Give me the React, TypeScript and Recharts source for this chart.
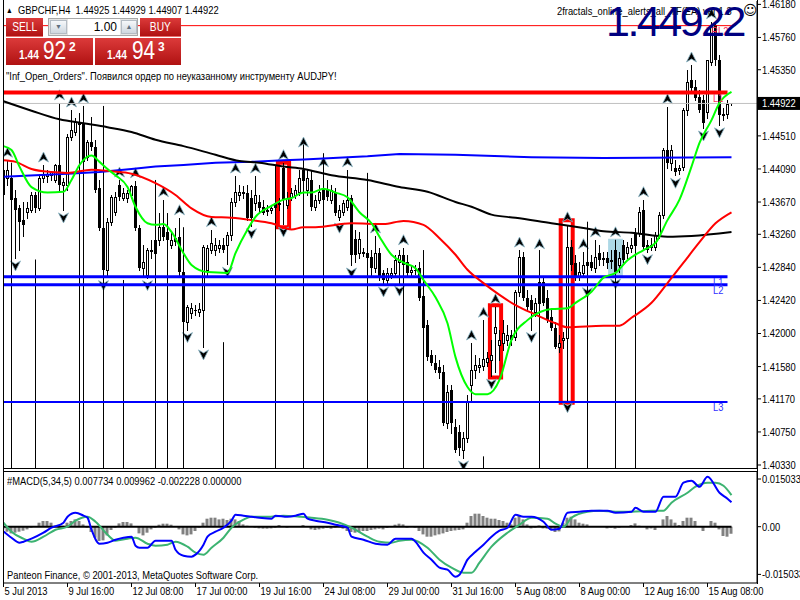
import React from 'react';
import { ComposedChart, Bar, Line, XAxis, YAxis, ReferenceLine, ReferenceArea } from 'recharts';

const FONT = '"Liberation Sans", Arial, sans-serif';
const SX = 0.85; // horizontal condensing of the terminal font

// ---- GBPCHF H4 candles (index 0 = 5 Jul 2013 00:00) ----
const opens = [
1.4408,1.4398,1.4398,1.4372,1.4359,1.4344,1.4354,1.4357,1.4376,1.4359,
1.4398,1.4400,1.4401,1.4395,1.4414,1.4389,1.4389,1.4450,1.4456,1.4469,
1.4467,1.4424,1.4443,1.4437,1.4385,1.4334,1.4281,1.4342,1.4354,1.4389,
1.4372,1.4372,1.4376,1.4387,1.4334,1.4283,1.4274,1.4306,1.4302,1.4319,
1.4335,1.4329,1.4312,1.4321,1.4323,1.4278,1.4215,1.4226,1.4230,1.4227,
1.4230,1.4281,1.4306,1.4306,1.4309,1.4312,1.4312,1.4325,1.4367,1.4376,
1.4380,1.4379,1.4372,1.4366,1.4367,1.4361,1.4357,1.4357,1.4361,1.4366,
1.4410,1.4363,1.4373,1.4376,1.4380,1.4395,1.4382,1.4395,1.4361,1.4370,
1.4385,1.4382,1.4370,1.4379,1.4348,1.4354,1.4361,1.4372,1.4320,1.4302,
1.4302,1.4302,1.4297,1.4283,1.4302,1.4277,1.4268,1.4274,1.4277,1.4291,
1.4300,1.4291,1.4278,1.4281,1.4283,1.4248,1.4211,1.4173,1.4163,1.4158,
1.4151,1.4086,1.4128,1.4081,1.4075,1.4052,1.4067,1.4135,1.4154,1.4158,
1.4159,1.4164,1.4166,1.4201,1.4185,1.4188,1.4192,1.4198,1.4195,1.4253,
1.4297,1.4245,1.4243,1.4227,1.4239,1.4265,1.4245,1.4221,1.4207,1.4183,
1.4192,1.4194,1.4310,1.4290,1.4272,1.4277,1.4287,1.4291,1.4283,1.4302,
1.4296,1.4296,1.4293,1.4306,1.4287,1.4312,1.4302,1.4309,1.4312,1.4328,
1.4357,1.4312,1.4312,1.4310,1.4325,1.4351,1.4433,1.4417,1.4410,1.4408,
1.4412,1.4484,1.4522,1.4513,1.4500,1.4497,1.4481,1.4545,1.4592,1.4547,
1.4478,1.4479,1.44925];
const highs = [
1.4418,1.4420,1.4417,1.4382,1.4363,1.4367,1.4367,1.4380,1.4380,1.4400,
1.4414,1.4408,1.4405,1.4415,1.4493,1.4398,1.4453,1.4484,1.4474,1.4478,
1.4489,1.4446,1.4475,1.4446,1.4395,1.4344,1.4347,1.4376,1.4380,1.4395,
1.4385,1.4382,1.4389,1.4394,1.4338,1.4312,1.4309,1.4319,1.4325,1.4353,
1.4370,1.4351,1.4329,1.4334,1.4347,1.4283,1.4236,1.4239,1.4236,1.4239,
1.4312,1.4312,1.4332,1.4321,1.4319,1.4321,1.4329,1.4372,1.4400,1.4389,
1.4387,1.4389,1.4382,1.4400,1.4376,1.4370,1.4363,1.4363,1.4370,1.4372,
1.4417,1.4380,1.4385,1.4389,1.4408,1.4433,1.4408,1.4408,1.4376,1.4389,
1.4408,1.4395,1.4389,1.4385,1.4363,1.4370,1.4408,1.4376,1.4332,1.4329,
1.4309,1.4312,1.4306,1.4324,1.4309,1.4281,1.4283,1.4283,1.4300,1.4306,
1.4309,1.4300,1.4286,1.4287,1.4291,1.4255,1.4217,1.4179,1.4173,1.4166,
1.4160,1.4135,1.4135,1.4092,1.4084,1.4075,1.4122,1.4188,1.4173,1.4169,
1.4217,1.4177,1.4192,1.4234,1.4205,1.4217,1.4211,1.4205,1.4255,1.4306,
1.4304,1.4255,1.4249,1.4245,1.4304,1.4271,1.4255,1.4230,1.4215,1.4198,
1.4202,1.4338,1.4319,1.4300,1.4291,1.4304,1.4300,1.4300,1.4319,1.4312,
1.4304,1.4304,1.4306,1.4319,1.4304,1.4319,1.4316,1.4321,1.4334,1.4361,
1.4370,1.4319,1.4321,1.4329,1.4354,1.4436,1.4488,1.4440,1.4420,1.4414,
1.4486,1.4535,1.4541,1.4522,1.4509,1.4503,1.4547,1.4596,1.4594,1.4554,
1.4486,1.4497,1.44929];
const lows = [
1.4372,1.4389,1.4351,1.4296,1.4306,1.4324,1.4347,1.4354,1.4354,1.4357,
1.4393,1.4393,1.4395,1.4393,1.4382,1.4357,1.4382,1.4446,1.4452,1.4461,
1.4414,1.4420,1.4433,1.4380,1.4332,1.4271,1.4274,1.4338,1.4351,1.4370,
1.4370,1.4367,1.4372,1.4332,1.4281,1.4274,1.4271,1.4296,1.4291,1.4312,
1.4319,1.4315,1.4309,1.4312,1.4274,1.4210,1.4205,1.4220,1.4224,1.4222,
1.4183,1.4274,1.4302,1.4300,1.4304,1.4304,1.4288,1.4319,1.4362,1.4370,
1.4372,1.4344,1.4337,1.4357,1.4354,1.4352,1.4351,1.4353,1.4354,1.4357,
1.4339,1.4359,1.4370,1.4372,1.4376,1.4382,1.4376,1.4357,1.4357,1.4366,
1.4367,1.4370,1.4366,1.4351,1.4344,1.4351,1.4357,1.4287,1.4291,1.4296,
1.4299,1.4293,1.4274,1.4278,1.4268,1.4263,1.4264,1.4271,1.4273,1.4264,
1.4283,1.4274,1.4273,1.4276,1.4243,1.4205,1.4166,1.4160,1.4151,1.4144,
1.4084,1.4080,1.4074,1.4050,1.4046,1.4042,1.4062,1.4116,1.4144,1.4151,
1.4154,1.4159,1.4146,1.4151,1.4166,1.4179,1.4185,1.4185,1.4192,1.4248,
1.4243,1.4230,1.4205,1.4222,1.4235,1.4236,1.4215,1.4205,1.4182,1.4177,
1.4182,1.4116,1.4281,1.4268,1.4268,1.4273,1.4262,1.4281,1.4278,1.4287,
1.4287,1.4283,1.4283,1.4273,1.4278,1.4291,1.4296,1.4304,1.4309,1.4324,
1.4306,1.4304,1.4306,1.4306,1.4321,1.4347,1.4410,1.4408,1.4401,1.4403,
1.4408,1.4478,1.4507,1.4497,1.4481,1.4461,1.4474,1.4541,1.4541,1.4465,
1.4471,1.4474,1.44907];
const closes = [
1.4376,1.4408,1.4370,1.4357,1.4342,1.4338,1.4359,1.4376,1.4359,1.4398,
1.4401,1.4403,1.4405,1.4414,1.4389,1.4393,1.4450,1.4459,1.4469,1.4465,
1.4418,1.4443,1.4437,1.4382,1.4334,1.4281,1.4342,1.4373,1.4373,1.4373,
1.4379,1.4379,1.4387,1.4334,1.4283,1.4291,1.4306,1.4304,1.4319,1.4335,
1.4323,1.4319,1.4319,1.4316,1.4278,1.4215,1.4234,1.4232,1.4229,1.4231,
1.4310,1.4309,1.4315,1.4312,1.4312,1.4306,1.4325,1.4367,1.4380,1.4380,
1.4377,1.4347,1.4347,1.4376,1.4359,1.4353,1.4354,1.4359,1.4366,1.4363,
1.4370,1.4372,1.4379,1.4382,1.4398,1.4408,1.4398,1.4361,1.4370,1.4380,
1.4370,1.4373,1.4382,1.4353,1.4357,1.4366,1.4370,1.4300,1.4300,1.4320,
1.4304,1.4296,1.4283,1.4302,1.4271,1.4268,1.4277,1.4277,1.4293,1.4300,
1.4287,1.4277,1.4281,1.4279,1.4245,1.4207,1.4170,1.4163,1.4154,1.4150,
1.4086,1.4126,1.4086,1.4052,1.4055,1.4067,1.4113,1.4154,1.4160,1.4160,
1.4168,1.4169,1.4173,1.4208,1.4192,1.4201,1.4198,1.4192,1.4253,1.4297,
1.4245,1.4234,1.4230,1.4239,1.4265,1.4239,1.4217,1.4207,1.4183,1.4188,
1.4194,1.4310,1.4287,1.4272,1.4278,1.4287,1.4291,1.4283,1.4297,1.4293,
1.4293,1.4290,1.4291,1.4278,1.4296,1.4293,1.4310,1.4312,1.4328,1.4354,
1.4310,1.4306,1.4309,1.4325,1.4351,1.4433,1.4417,1.4433,1.4405,1.4410,
1.4484,1.4520,1.4512,1.4499,1.4484,1.4467,1.4547,1.4592,1.4547,1.4478,
1.4479,1.4491,1.44922];

const fractalUp = [1,10,14,17,20,29,33,40,44,52,58,63,70,75,80,86,93,100,117,120,123,129,134,141,145,148,153,160,166,172,177];
const fractalDown = [3,15,25,36,46,50,56,62,70,84,87,95,99,115,122,132,141,146,153,161,168,175,179];

// [bar index, price]
const fastMA = [[0,1.4438],[2,1.4433],[4,1.4412],[7,1.4386],[11,1.4379],[15,1.4380],[17,1.4395],[19,1.4414],[22,1.4426],[24,1.4418],[26,1.4409],[28,1.4401],[31,1.4386],[33,1.4361],[36,1.4340],[38,1.4338],[40,1.4339],[42,1.4329],[45,1.4302],[47,1.4287],[51,1.4278],[56,1.4277],[58,1.4302],[61,1.4332],[63,1.4348],[67,1.4362],[70,1.4370],[72,1.4372],[75,1.4379],[77,1.4379],[80,1.4384],[83,1.4379],[86,1.4373],[89,1.4354],[92,1.4340],[94,1.4323],[97,1.4300],[100,1.4290],[103,1.4283],[105,1.4268],[108,1.4246],[111,1.4213],[113,1.4170],[116,1.4132],[118,1.4123],[121,1.4123],[124,1.4141],[127,1.4192],[131,1.4217],[134,1.4227],[137,1.4231],[141,1.4232],[143,1.4239],[147,1.4253],[150,1.4271],[153,1.4277],[156,1.4293],[160,1.4306],[163,1.4315],[166,1.4344],[169,1.4370],[172,1.4412],[174,1.4442],[177,1.4471],[179,1.4493],[182,1.4507]];
const slowMA = [[0,1.4420],[3,1.4418],[7,1.4409],[12,1.4405],[16,1.4404],[22,1.4408],[27,1.4406],[32,1.4403],[38,1.4391],[43,1.4376],[47,1.4359],[52,1.4348],[57,1.4347],[62,1.4344],[67,1.4340],[72,1.4332],[75,1.4335],[78,1.4335],[87,1.4340],[95,1.4339],[100,1.4343],[105,1.4338],[109,1.4321],[113,1.4300],[116,1.4281],[120,1.4264],[124,1.4249],[128,1.4236],[133,1.4224],[138,1.4213],[141,1.4208],[150,1.4210],[154,1.4210],[157,1.4220],[162,1.4239],[166,1.4264],[170,1.4290],[174,1.4316],[178,1.4340],[182,1.4354]];
const longMA = [[0,1.4495],[7,1.4483],[14,1.4472],[20,1.4467],[26,1.4462],[32,1.4456],[38,1.4446],[45,1.4438],[53,1.4427],[59,1.4419],[64,1.4417],[70,1.4412],[75,1.4409],[82,1.4401],[91,1.4395],[99,1.4386],[106,1.4380],[113,1.4367],[117,1.4361],[122,1.4351],[128,1.4347],[137,1.4340],[145,1.4334],[150,1.4330],[157,1.4328],[166,1.4323],[172,1.4324],[182,1.4329]];
const htfMA = [[0,1.4399],[16,1.4403],[24,1.4405],[32,1.4409],[38,1.4412],[45,1.4414],[53,1.4417],[62,1.4418],[70,1.4420],[75,1.4421],[91,1.4425],[99,1.4428],[113,1.4427],[132,1.4424],[150,1.4423],[182,1.4424]];

// vertical fractal lines: [bar index, top price]
const fractalLines = [[2,1.4417],[8,1.4294],[19,1.4480],[20,1.4489],[25,1.4489],[30,1.4268],[38,1.4395],[41,1.4353],[45,1.4335],[55,1.4189],[68,1.4414],[75,1.4440],[80,1.4429],[91,1.4404],[100,1.4293],[105,1.4306],[120,1.4044],[134,1.4306],[146,1.4342],[153,1.4319],[158,1.4332]];

const bidPrice = 1.44922;
const redThinLevel = 1.4591;
const redLevel = 1.4506;
const blueL1 = 1.4272;
const blueL2 = 1.4262;
const blueL3 = 1.4113;

// highlighted boxes: [x from, x to, price low, price high]
const redBoxes = [[68.6,71.4,1.4335,1.4417],[121.6,124.4,1.4144,1.4236],[139.3,142.3,1.4112,1.4344]];
const blueBox = [151.4,154.6,1.4272,1.4319];

const priceTicks = [1.4618,1.4576,1.4535,1.4451,1.4409,1.4367,1.4326,1.4284,1.4242,1.4200,1.4158,1.4117,1.4075,1.4033];
const timeLabels = ['5 Jul 2013','9 Jul 16:00','12 Jul 08:00','17 Jul 00:00','19 Jul 16:00','24 Jul 08:00','29 Jul 00:00','31 Jul 16:00','5 Aug 08:00','8 Aug 00:00','12 Aug 16:00','15 Aug 08:00'];

// ---- MACD(5,34,5) ----
const macdHist = [
-0.00085,-0.00158,-0.00211,-0.00189,-0.00158,-0.00126,-0.00085,-0.00032,0.00016,0.00126,
0.0018,0.0018,0.00126,0.00032,-0.00032,0.00032,0.00126,0.0018,0.0023,0.0018,
0.00072,-0.00032,-0.00167,-0.00347,-0.0045,-0.00432,-0.00274,-0.00104,-0.00032,0.00104,
0.00148,0.00148,0.00104,0.00022,-0.00211,-0.00274,-0.00189,-0.00085,-0.00032,0.00063,
0.00095,0.00095,0.00063,0.00005,-0.00085,-0.00243,-0.00274,-0.00243,-0.00135,-0.00032,
0.00126,0.00252,0.00284,0.00284,0.0023,0.00252,0.00211,0.00252,0.0023,0.0018,
0.00072,0.00032,0.00005,-0.00032,-0.00054,-0.00063,-0.00063,-0.00054,-0.00032,0.00054,
0.00005,-0.00032,-0.00005,0.00022,0.00005,0.00054,0.00005,-0.00085,-0.00104,-0.00085,
-0.00063,-0.00041,-0.00063,-0.00032,-0.00016,-0.00063,-0.00135,-0.00167,-0.00189,-0.00167,
-0.00135,-0.00135,-0.00104,-0.00085,-0.00063,-0.00085,-0.00041,-0.00016,0.00063,0.00095,
0.00072,-0.00032,0.00005,-0.00032,-0.00135,-0.00243,-0.00315,-0.00315,-0.00274,-0.00243,
-0.00211,-0.00167,-0.00135,-0.00117,-0.00104,-0.00085,0.00126,0.00337,0.0041,0.0041,
0.00337,0.00284,0.00252,0.00252,0.00211,0.0018,0.00126,0.00072,0.00284,0.00337,
0.0023,0.00072,-0.00054,-0.00032,0.00041,-0.00054,-0.00063,-0.00104,-0.00167,-0.00148,
0.00126,0.00284,0.00315,0.0023,0.00126,0.00095,0.00072,0.00005,0.00016,0.00005,
-0.00005,-0.00054,-0.00032,-0.00063,-0.00032,-0.00005,0.00016,0.00054,0.00104,0.00032,
-0.00005,-0.00085,-0.00054,-0.00104,0.00005,0.0023,0.00337,0.0023,0.00126,0.00054,
0.0018,0.00284,0.00284,0.0018,0.00005,-0.00135,0.00005,0.0018,0.00126,-0.00085,
-0.00293,-0.00315,-0.002228];
const macdMain = [[0,-0.00148],[2,-0.00347],[4,-0.00504],[5,-0.00473],[7,-0.00378],[10,-0.00189],[12,-0.00032],[15,0.00126],[16,0.00315],[18,0.00441],[20,0.00347],[21,0.00284],[22,-0.00095],[24,-0.00536],[26,-0.00504],[28,-0.0041],[30,-0.00347],[32,-0.00315],[33,-0.00599],[34,-0.00662],[36,-0.00662],[38,-0.00441],[41,-0.00441],[42,-0.00441],[43,-0.00725],[45,-0.00914],[47,-0.00945],[48,-0.00882],[50,-0.00567],[51,-0.00315],[53,-0.00158],[55,-0.00032],[57,0.00189],[58,0.00378],[60,0.00347],[62,0.00315],[64,0.00284],[67,0.00252],[68,0.00347],[71,0.00315],[73,0.00347],[75,0.0041],[76,0.00252],[78,0.00189],[81,0.00126],[83,0.00063],[86,-0.00032],[87,-0.00315],[90,-0.0041],[93,-0.00536],[96,-0.00567],[98,-0.00378],[102,-0.00378],[103,-0.00473],[105,-0.00819],[107,-0.0104],[109,-0.01292],[111,-0.01355],[113,-0.01575],[114,-0.01512],[116,-0.0104],[118,-0.00788],[120,-0.00567],[122,-0.00315],[124,-0.00126],[126,-0.00032],[128,0.00378],[130,0.00315],[132,0.00315],[135,0.00158],[137,-0.00095],[139,-0.00063],[141,0.00441],[144,0.00473],[147,0.00504],[151,0.00504],[153,0.00441],[157,0.00473],[158,0.00599],[160,0.00473],[163,0.00473],[165,0.00945],[168,0.00945],[170,0.01386],[172,0.01449],[174,0.0126],[176,0.01575],[179,0.01071],[181,0.00882],[182,0.007734]];
const macdSignal = [[0,0.00126],[2,-0.00158],[5,-0.00378],[7,-0.00473],[10,-0.00315],[13,-0.00095],[16,0],[18,0.00189],[21,0.00315],[23,0.00158],[26,-0.00252],[28,-0.00441],[31,-0.00378],[33,-0.00347],[36,-0.00536],[38,-0.00599],[41,-0.00567],[43,-0.00473],[46,-0.0063],[48,-0.00819],[50,-0.00882],[52,-0.00662],[55,-0.00347],[57,-0.00032],[60,0.00221],[62,0.00315],[66,0.00315],[70,0.00347],[74,0.00315],[77,0.00284],[81,0.00221],[84,0.00126],[87,-0.00032],[91,-0.00315],[94,-0.00473],[97,-0.00504],[99,-0.00441],[102,-0.0041],[106,-0.00662],[109,-0.0104],[112,-0.01292],[115,-0.01449],[117,-0.01449],[119,-0.01134],[122,-0.0063],[126,-0.00189],[129,0.00063],[132,0.00284],[136,0.00252],[138,0.00095],[140,0],[142,0.00284],[146,0.00473],[149,0.00504],[153,0.00473],[157,0.00473],[162,0.00504],[165,0.00504],[167,0.00756],[171,0.01071],[173,0.0126],[176,0.01386],[178,0.01386],[180,0.01292],[182,0.009962]];
const macdTicks = [0.015033, 0, -0.015033];

// ---- scales ----
const XMIN = -0.125;
const XMAX = 188.375;
const PRICE_MIN = 1.40292;
const PRICE_MAX = 1.46223;
const MACD_MIN = -0.01775;
const MACD_MAX = 0.01724;
const LAST = opens.length - 1;
const LEVEL_END = 181;

const toMap = (arr) => new Map(arr.map((p) => [p[0], p[1]]));
const fastMap = toMap(fastMA);
const slowMap = toMap(slowMA);
const longMap = toMap(longMA);
const htfMap = toMap(htfMA);
const upSet = new Set(fractalUp);
const dnSet = new Set(fractalDown);

const rows = opens.map((o, i) => ({
  i, o, h: highs[i], l: lows[i], c: closes[i],
  fu: upSet.has(i), fd: dnSet.has(i),
  fast: fastMap.has(i) ? fastMap.get(i) : null,
  slow: slowMap.has(i) ? slowMap.get(i) : null,
  long: longMap.has(i) ? longMap.get(i) : null,
  htf: htfMap.has(i) ? htfMap.get(i) : null,
}));

const mainMap = toMap(macdMain);
const sigMap = toMap(macdSignal);
const macdRows = macdHist.map((v, i) => ({
  i, hist: v,
  main: mainMap.has(i) ? mainMap.get(i) : null,
  sig: sigMap.has(i) ? sigMap.get(i) : null,
}));

const timeTicks = timeLabels.map((_, k) => k * 16);

function Candle(props: any) {
  const { x, y, width, height, payload } = props;
  if (x == null || y == null || !payload) return <g />;
  const cx = Math.floor(x + width / 2) + 0.5;
  const top = Math.min(y, y + height);
  const bot = Math.max(y, y + height);
  const { o, h, l, c } = payload;
  const span = h - l;
  const py = (v: number) => (span > 0 ? top + ((h - v) / span) * (bot - top) : top);
  const yo = py(o);
  const yc = py(c);
  const bull = c >= o;
  const bt = Math.round(Math.min(yo, yc));
  const bb = Math.round(Math.max(yo, yc));
  const els: any[] = [];
  els.push(<line key="w" x1={cx} x2={cx} y1={Math.round(top)} y2={Math.round(bot) + 1} stroke="#000" strokeWidth={1} />);
  if (bull) {
    els.push(<rect key="b" x={cx - 1} y={bt + 0.5} width={2} height={Math.max(bb - bt, 1)} fill="#fff" stroke="#000" strokeWidth={1} />);
  } else {
    els.push(<rect key="b" x={cx - 1.5} y={bt} width={3} height={Math.max(bb - bt, 1)} fill="#000" />);
  }
  if (payload.fu) {
    const ay = top - 8;
    els.push(<path key="u" d={`M${cx},${ay - 5}L${cx + 5},${ay + 5}L${cx},${ay + 2}L${cx - 5},${ay + 5}Z`} fill="#000" stroke="#8ab8c8" strokeWidth={0.8} />);
  }
  if (payload.fd) {
    const ay = bot + 8;
    els.push(<path key="d" d={`M${cx},${ay + 5}L${cx + 5},${ay - 5}L${cx},${ay - 2}L${cx - 5},${ay - 5}Z`} fill="#000" stroke="#8ab8c8" strokeWidth={0.8} />);
  }
  return <g>{els}</g>;
}

function BidTag(props: any) {
  const vb = props.viewBox || {};
  const x = (vb.x || 0) + (vb.width || 0);
  const y = vb.y || 0;
  return (
    <g>
      <rect x={x} y={y - 6.5} width={43} height={13} fill="#000" />
      <text transform={`translate(${x + 5},${y}) scale(${SX},1)`} dy="0.36em" fill="#fff" fontSize={11} fontFamily={FONT}>{bidPrice.toFixed(5)}</text>
    </g>
  );
}

function AxisTick(props: any) {
  const { x, y, payload, tickFormatter } = props;
  const label = tickFormatter ? tickFormatter(payload.value) : String(payload.value);
  return (
    <text transform={`translate(${x},${y}) scale(${SX},1)`} dy="0.36em" fontSize={11} fontFamily={FONT} fill="#000" textAnchor="start">{label}</text>
  );
}

function TimeTick(props: any) {
  const k = Math.round(props.payload.value / 16);
  return (
    <text transform={`translate(${props.x + 1},${props.y + 6}) scale(${SX},1)`} fontSize={11} fontFamily={FONT} fill="#000" textAnchor="start">{timeLabels[k]}</text>
  );
}

const red = 'linear-gradient(#dc3a3a, #b01212)';
const abs = (l: number, t: number, extra: any = {}) => ({ position: 'absolute' as const, left: l, top: t, ...extra });
const cond = { transform: `scaleX(${SX})`, transformOrigin: 'left top' };

export default function App() {
  return (
    <div style={{ position: 'absolute', left: 0, top: 0, width: 800, height: 600, background: '#fff', overflow: 'hidden', fontFamily: FONT, color: '#000' }}>
      <div style={abs(0, 0)}>
        <ComposedChart width={800} height={469} data={rows} margin={{ top: 1, right: 0, bottom: 1, left: 3 }}>
          <XAxis dataKey="i" type="number" domain={[XMIN, XMAX]} allowDataOverflow hide />
          <YAxis orientation="right" width={43} domain={[PRICE_MIN, PRICE_MAX]} allowDataOverflow ticks={priceTicks} interval={0}
            tickFormatter={(v: number) => v.toFixed(5)} tick={(p: any) => <AxisTick {...p} tickFormatter={(v: number) => v.toFixed(5)} />}
            tickSize={4} tickMargin={1} axisLine={{ stroke: '#000' }} tickLine={{ stroke: '#000' }} />
          {fractalLines.map(([i, top]) => (
            <ReferenceLine key={'v' + i} segment={[{ x: i, y: top }, { x: i, y: PRICE_MIN }]} stroke="#000" strokeWidth={1} />
          ))}
          <ReferenceLine segment={[{ x: XMIN, y: redThinLevel }, { x: 183, y: redThinLevel }]} stroke="#ff0000" strokeWidth={1} />
          <ReferenceLine y={bidPrice} stroke="#c0c0c0" strokeWidth={1} label={(p: any) => <BidTag {...p} />} />
          <ReferenceLine segment={[{ x: XMIN, y: redLevel }, { x: LEVEL_END, y: redLevel }]} stroke="#ff0000" strokeWidth={4} />
          <ReferenceLine segment={[{ x: XMIN, y: blueL1 }, { x: LEVEL_END, y: blueL1 }]} stroke="#0000ff" strokeWidth={3} />
          <ReferenceLine segment={[{ x: XMIN, y: blueL2 }, { x: LEVEL_END, y: blueL2 }]} stroke="#0000ff" strokeWidth={3} />
          <ReferenceLine segment={[{ x: XMIN, y: blueL3 }, { x: LEVEL_END, y: blueL3 }]} stroke="#0000ff" strokeWidth={2} />
          <ReferenceArea x1={blueBox[0]} x2={blueBox[1]} y1={blueBox[2]} y2={blueBox[3]} fill="#add8e6" fillOpacity={1} stroke="#add8e6" strokeWidth={2} />
          {redBoxes.map((b, k) => (
            <ReferenceArea key={'rb' + k} x1={b[0]} x2={b[1]} y1={b[2]} y2={b[3]} fill="none" stroke="#ff0000" strokeWidth={4} />
          ))}
          <Line dataKey="htf" stroke="#0000ff" strokeWidth={2} dot={false} activeDot={false} connectNulls type="linear" isAnimationActive={false} />
          <Line dataKey="long" stroke="#000000" strokeWidth={2} dot={false} activeDot={false} connectNulls type="monotone" isAnimationActive={false} />
          <Line dataKey="slow" stroke="#ff0000" strokeWidth={2} dot={false} activeDot={false} connectNulls type="monotone" isAnimationActive={false} />
          <Line dataKey="fast" stroke="#00ff00" strokeWidth={2} dot={false} activeDot={false} connectNulls type="monotone" isAnimationActive={false} />
          <Bar dataKey={(d: any) => [d.l, d.h]} barSize={3} shape={(p: any) => <Candle {...p} />} isAnimationActive={false} />
        </ComposedChart>
      </div>

      <div style={abs(0, 471)}>
        <ComposedChart width={800} height={129} data={macdRows} margin={{ top: 1, right: 0, bottom: 0, left: 3 }}>
          <XAxis dataKey="i" type="number" domain={[XMIN, XMAX]} allowDataOverflow ticks={timeTicks} interval={0} height={17}
            tickSize={4} tick={(p: any) => <TimeTick {...p} />} axisLine={{ stroke: '#000' }} tickLine={{ stroke: '#000' }} />
          <YAxis orientation="right" width={43} domain={[MACD_MIN, MACD_MAX]} allowDataOverflow ticks={macdTicks} interval={0}
            tick={(p: any) => <AxisTick {...p} tickFormatter={(v: number) => (v === 0 ? '0.00' : v.toFixed(6))} />}
            tickSize={4} tickMargin={1} axisLine={{ stroke: '#000' }} tickLine={{ stroke: '#000' }} />
          <Bar dataKey="hist" fill="#808080" barSize={3} isAnimationActive={false} />
          <ReferenceLine segment={[{ x: XMIN, y: 0 }, { x: LAST, y: 0 }]} stroke="#000" strokeWidth={2} />
          <Line dataKey="sig" stroke="#3cb371" strokeWidth={2} dot={false} activeDot={false} connectNulls type="monotone" isAnimationActive={false} />
          <Line dataKey="main" stroke="#0000ff" strokeWidth={2} dot={false} activeDot={false} connectNulls type="monotone" isAnimationActive={false} />
        </ComposedChart>
      </div>

      {/* frame */}
      <div style={abs(3, 0, { width: 1, height: 584, background: '#000' })} />
      <div style={abs(757, 0, { width: 1, height: 584, background: '#000' })} />
      <div style={abs(3, 468, { width: 755, height: 1, background: '#000' })} />
      <div style={abs(3, 471, { width: 755, height: 1, background: '#000' })} />

      {/* header */}
      <div style={abs(6, 4, { fontSize: 11, lineHeight: '13px', whiteSpace: 'pre', ...cond })}>
        <span style={{ fontSize: 8, verticalAlign: 1 }}>▲</span>{'  GBPCHF,H4  1.44925 1.44929 1.44907 1.44922'}
      </div>

      {/* trade panel */}
      <div style={abs(6, 18, { width: 37, height: 19, background: red, color: '#fff', fontSize: 12, lineHeight: '19px', textAlign: 'center', borderBottom: '1px solid #e87070', boxSizing: 'border-box' })}>
        <span style={{ display: 'inline-block', transform: `scaleX(${SX})` }}>SELL</span>
      </div>
      <div style={abs(48, 18, { width: 90, height: 18, background: '#e4e4e4', border: '1px solid #a8a8a8', boxSizing: 'border-box' })}>
        <div style={abs(1, 1, { width: 17, height: 14, background: 'linear-gradient(#f6f8fa,#cfd7df)', border: '1px solid #b4bcc4', boxSizing: 'border-box', fontSize: 7, lineHeight: '12px', color: '#607080', textAlign: 'center' })}>▼</div>
        <div style={abs(19, 0, { width: 52, height: 16, background: '#fff', fontSize: 12, lineHeight: '16px', textAlign: 'right', paddingRight: 3, boxSizing: 'border-box' })}>1.00</div>
        <div style={abs(72, 1, { width: 16, height: 14, background: 'linear-gradient(#f6f8fa,#cfd7df)', border: '1px solid #b4bcc4', boxSizing: 'border-box', fontSize: 7, lineHeight: '12px', color: '#607080', textAlign: 'center' })}>▲</div>
      </div>
      <div style={abs(140, 18, { width: 41, height: 19, background: red, color: '#fff', fontSize: 12, lineHeight: '19px', textAlign: 'center', borderBottom: '1px solid #e87070', boxSizing: 'border-box' })}>
        <span style={{ display: 'inline-block', transform: `scaleX(${SX})` }}>BUY</span>
      </div>
      <div style={abs(6, 38, { width: 87, height: 27, background: red, color: '#fff' })}>
        <span style={abs(13, 11, { fontSize: 12, fontWeight: 'bold', lineHeight: '12px', ...cond })}>1.44</span>
        <span style={abs(37, -1, { fontSize: 26, lineHeight: '26px', transform: 'scaleX(0.8)', transformOrigin: 'left top' })}>92</span>
        <span style={abs(63, 3, { fontSize: 12, fontWeight: 'bold', lineHeight: '12px' })}>2</span>
      </div>
      <div style={abs(95, 38, { width: 86, height: 27, background: red, color: '#fff' })}>
        <span style={abs(12, 11, { fontSize: 12, fontWeight: 'bold', lineHeight: '12px', ...cond })}>1.44</span>
        <span style={abs(37, -1, { fontSize: 26, lineHeight: '26px', transform: 'scaleX(0.8)', transformOrigin: 'left top' })}>94</span>
        <span style={abs(63, 3, { fontSize: 12, fontWeight: 'bold', lineHeight: '12px' })}>3</span>
      </div>
      <div style={abs(6, 70, { fontSize: 11, lineHeight: '13px', whiteSpace: 'pre', ...cond })}>{'"Inf_Open_Orders". Появился ордер по неуказанному инструменту AUDJPY!'}</div>

      {/* top-right EA info */}
      <div style={abs(557, 5, { fontSize: 11, lineHeight: '13px', whiteSpace: 'pre', ...cond })}>2fractals_online_alerts_all_TF(EA) ver 1.3</div>
      <div style={abs(743, 3, { fontSize: 14, lineHeight: '14px', fontFamily: '"DejaVu Sans", sans-serif' })}>☺</div>
      <div style={abs(706, 26, { fontSize: 11, lineHeight: '11px', color: '#ff2a5a', ...cond })}>LRL2</div>
      <div style={abs(606, 0, { fontSize: 43, lineHeight: '43px', letterSpacing: -2.5, color: '#000080', fontFamily: '"Liberation Sans", Arial, sans-serif', whiteSpace: 'pre' })}>1.44922</div>

      {/* level labels */}
      <div style={abs(713, 93, { fontSize: 11, lineHeight: '11px', color: '#ff2a5a', ...cond })}>L1</div>
      <div style={abs(713, 277, { fontSize: 11, lineHeight: '11px', color: '#3030ff', ...cond })}>L1</div>
      <div style={abs(713, 285, { fontSize: 11, lineHeight: '11px', color: '#3030ff', ...cond })}>L2</div>
      <div style={abs(713, 402, { fontSize: 11, lineHeight: '11px', color: '#3030ff', ...cond })}>L3</div>

      {/* MACD panel texts */}
      <div style={abs(7, 475, { fontSize: 11, lineHeight: '12px', whiteSpace: 'pre', ...cond })}>#MACD(5,34,5) 0.007734 0.009962 -0.002228 0.000000</div>
      <div style={abs(7, 569, { fontSize: 11, lineHeight: '12px', whiteSpace: 'pre', ...cond })}>Panteon Finance, © 2001-2013, MetaQuotes Software Corp.</div>
    </div>
  );
}
